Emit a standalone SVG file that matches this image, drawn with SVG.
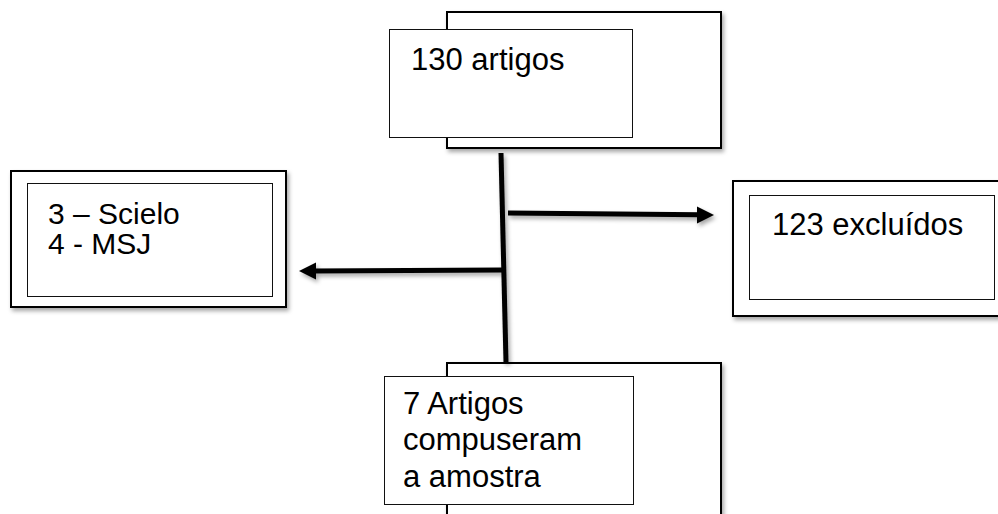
<svg xmlns="http://www.w3.org/2000/svg" width="998" height="514" viewBox="0 0 998 514">
<defs>
<filter id="sh" filterUnits="userSpaceOnUse" x="0" y="0" width="998" height="514">
<feDropShadow dx="2" dy="3" stdDeviation="2" flood-color="#000" flood-opacity="0.35"/>
</filter>
</defs>
<style>
.outer{fill:#fff;stroke:#000;stroke-width:2;filter:url(#sh)}
.inner{fill:#fff;stroke:#111;stroke-width:1}
.t{font-family:"Liberation Sans",Arial,sans-serif;font-size:31px;fill:#000}
.ts{font-size:30px}
.c{stroke:#000;stroke-width:5;fill:none}
.ah{fill:#000;stroke:none}
.sh{filter:url(#sh)}
</style>
<rect width="998" height="514" fill="#fff"/>
<g id="top">
<rect class="outer" x="447" y="12" width="274" height="136"/>
<rect class="inner" x="389.5" y="29.5" width="243" height="108"/>
<text class="t" x="411" y="70">130 artigos</text>
</g>
<g id="left">
<rect class="outer" x="11" y="171" width="275" height="136"/>
<rect class="inner" x="27.5" y="183.5" width="245" height="113"/>
<text class="t ts" x="48" y="224">3 – Scielo</text>
<text class="t ts" x="48" y="254">4 - MSJ</text>
</g>
<g id="right">
<rect class="outer" x="733" y="181" width="270" height="135"/>
<rect class="inner" x="749.5" y="195.5" width="245" height="104"/>
<text class="t" x="772" y="235">123 excluídos</text>
</g>
<g id="bottom">
<rect class="outer" x="447" y="363" width="274" height="170"/>
<rect class="inner" x="384.5" y="376.5" width="249" height="128"/>
<text class="t" x="403" y="414">7 Artigos</text>
<text class="t" x="403" y="450">compuseram</text>
<text class="t" x="403" y="487">a amostra</text>
</g>
<g id="connectors" class="sh">
<line class="c" x1="501" y1="153" x2="506" y2="362"/>
<line class="c" x1="508" y1="213" x2="700" y2="214.8"/>
<polygon class="ah" points="697,206.5 714,215 697,223.5"/>
<line class="c" x1="502" y1="270" x2="313" y2="271"/>
<polygon class="ah" points="316,262.5 299,271 316,279.5"/>
</g>
</svg>
